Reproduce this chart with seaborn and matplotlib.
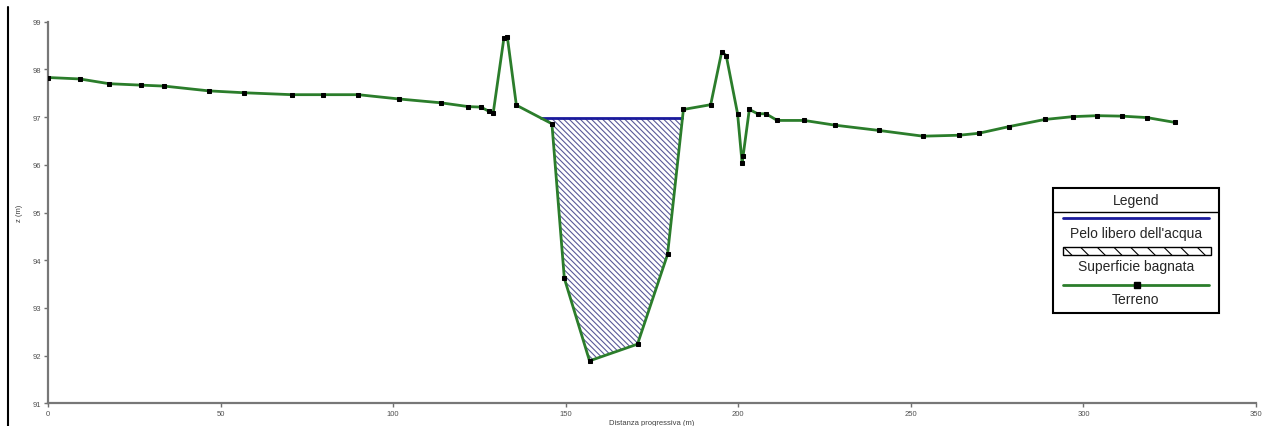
import numpy as np
import pandas as pd
import matplotlib
matplotlib.use('Agg')
import matplotlib.pyplot as plt
import seaborn as sns
from matplotlib.lines import Line2D
from matplotlib.patches import Rectangle

# sezione trasversale: distanza progressiva (m) e quota terreno (m)
distanza = [0.0, 9.2, 17.7, 27.0, 33.7, 46.6, 56.9, 70.7, 79.7, 89.9, 101.7,
            113.8, 121.8, 125.4, 127.8, 129.0, 132.1, 133.1, 135.7, 146.0,
            149.6, 156.9, 170.8, 179.5, 184.1, 192.0, 195.2, 196.5, 199.8,
            201.1, 201.4, 203.2, 205.6, 208.0, 211.3, 219.1, 228.1, 240.8,
            253.5, 264.0, 269.6, 278.4, 288.8, 297.0, 304.0, 311.2, 318.4, 326.4]
quota = [97.83, 97.80, 97.70, 97.67, 97.65, 97.55, 97.51, 97.47, 97.47, 97.47,
         97.38, 97.30, 97.22, 97.21, 97.12, 97.09, 98.66, 98.67, 97.25, 96.86,
         93.62, 91.89, 92.24, 94.12, 97.16, 97.26, 98.37, 98.29, 97.07, 96.04,
         96.19, 97.16, 97.07, 97.07, 96.93, 96.93, 96.83, 96.72, 96.60, 96.62,
         96.66, 96.80, 96.95, 97.01, 97.03, 97.02, 96.99, 96.89]

# pelo libero dell'acqua
livello_acqua = 96.98
alveo_da, alveo_a = 136.0, 185.0

legend_labels = ["Pelo libero dell'acqua", "Superficie bagnata", "Terreno"]

GREEN = '#2b7d2b'
BLUE = '#1a1a9c'
HATCH = '#5a5a98'

sns.set_style('white')
plt.rcParams['font.family'] = ['Liberation Sans', 'DejaVu Sans']
plt.rcParams['hatch.color'] = HATCH
plt.rcParams['hatch.linewidth'] = 0.8

df = pd.DataFrame({'distanza': distanza, 'quota': quota})
x = df['distanza'].to_numpy()
z = df['quota'].to_numpy()

fig = plt.figure(figsize=(12.63, 4.27), dpi=100)
ax = fig.add_axes([48 / 1263, 1 - 404.3 / 427, 1208 / 1263, 381.6 / 427])

# superficie bagnata
wet = (x > alveo_da) & (x < alveo_a) & (z < livello_acqua)
ax.fill_between(x, z, livello_acqua, where=wet, interpolate=True,
                facecolor='none', edgecolor=HATCH, hatch='\\' * 6,
                linewidth=0, zorder=1)
# pelo libero
x_sx = np.interp(livello_acqua, z[18:20][::-1], x[18:20][::-1])
x_dx = np.interp(livello_acqua, z[23:25], x[23:25])
ax.plot([x_sx, x_dx], [livello_acqua, livello_acqua], color=BLUE, lw=2, zorder=2)

# terreno
sns.lineplot(data=df, x='distanza', y='quota', sort=False, estimator=None,
             color=GREEN, lw=2, marker='s', markersize=3,
             markerfacecolor='black', markeredgecolor='black', ax=ax, zorder=3)

ax.set_xlim(0, 350)
ax.set_ylim(91, 99)
ax.set_xticks(np.arange(0, 351, 50))
ax.set_xticks(np.arange(0, 351, 10), minor=True)
ax.set_yticks(np.arange(91, 100, 1))
ax.set_yticks(np.arange(91, 99.1, 0.5), minor=True)
ax.tick_params(which='both', direction='out', colors='#707070', labelsize=5.5,
               labelcolor='#505050', width=1, pad=2)
ax.tick_params(which='major', length=3)
ax.tick_params(which='minor', length=2)
ax.tick_params(left=True, bottom=True)
for side in ['top', 'right']:
    ax.spines[side].set_visible(False)
for side in ['left', 'bottom']:
    ax.spines[side].set_color('#777777')
    ax.spines[side].set_linewidth(1.6)

ax.set_xlabel('Distanza progressiva (m)', fontsize=5.5, color='#404040')
ax.xaxis.set_label_coords(0.5, -0.04)
ax.set_ylabel('z (m)', fontsize=5.5, color='#404040')
ax.yaxis.set_label_coords(-0.021, 0.5)

# bordo sinistro del riquadro
fig.add_artist(Line2D([7.5 / 1263, 7.5 / 1263], [0, 1 - 8 / 427],
                      transform=fig.transFigure, color='black', lw=1.5))

# legenda
lg = fig.add_axes([1053 / 1263, 1 - 314 / 427, 166 / 1263, 125 / 427])
lg.set_xlim(0, 166)
lg.set_ylim(125, 0)
lg.axis('off')
lg.add_patch(Rectangle((0, 0), 166, 125, facecolor='white', edgecolor='black',
                       lw=1.5, clip_on=False))
lg.plot([0, 166], [23.5, 23.5], color='black', lw=1)
lg.text(83, 11.5, 'Legend', ha='center', va='center', fontsize=10)
lg.plot([10, 156], [30, 30], color=BLUE, lw=2)
lg.text(83, 45, legend_labels[0], ha='center', va='center', fontsize=10)
lg.add_patch(Rectangle((10, 59), 148, 8, facecolor='white', edgecolor='black',
                       hatch='\\' * 2, lw=1))
lg.text(83, 78.5, legend_labels[1], ha='center', va='center', fontsize=10)
lg.plot([10, 156], [96.5, 96.5], color=GREEN, lw=2)
lg.plot([84], [96.5], marker='s', color='black', markersize=4.5)
lg.text(83, 111, legend_labels[2], ha='center', va='center', fontsize=10)

fig.savefig('out.png', dpi=100)
